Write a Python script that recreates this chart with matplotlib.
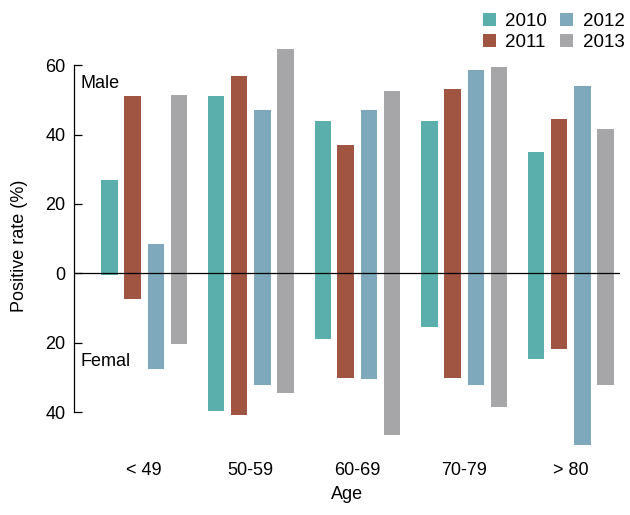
import numpy as np
import matplotlib.pyplot as plt

plt.rcParams['font.family'] = ['Liberation Sans', 'DejaVu Sans']

# age groups and years
ages = ['<49', '50-59', '60-69', '70-79', '>80']
years = ['2010', '2011', '2012', '2013']
colors = ['#5aaeac', '#a05442', '#7ea8bb', '#a6a6a8']

# positive rate (%) for males (upwards) and females (downwards)
male_2010 = [27, 51, 44, 44, 35]
male_2011 = [51, 57, 37, 53, 44.5]
male_2012 = [8.5, 47, 47, 58.5, 54]
male_2013 = [51.5, 64.5, 52.5, 59.5, 41.5]

female_2010 = [0.4, 39.7, 19, 15.5, 24.7]
female_2011 = [7.4, 40.8, 30, 30, 21.8]
female_2012 = [27.6, 32.2, 30.5, 32.2, 49.5]
female_2013 = [20.4, 34.5, 46.6, 38.5, 32.2]

male = [male_2010, male_2011, male_2012, male_2013]
female = [female_2010, female_2011, female_2012, female_2013]

fig = plt.figure(figsize=(6.3, 5.15), dpi=100)
ax = fig.add_axes([0.117, 0.132, 0.867, 0.782])

x = np.arange(len(ages))
offsets = [-0.325, -0.11, 0.11, 0.325]
width = 0.155
for i, yr in enumerate(years):
    top = np.array(male[i])
    bottom = -np.array(female[i])
    ax.bar(x + offsets[i], top - bottom, width, bottom=bottom,
           color=colors[i], label=yr, zorder=2)

ax.axhline(0, color='black', lw=0.9, zorder=3)

ax.set_xlim(-0.66, 4.46)
ax.set_ylim(-50, 66)
ax.set_yticks([60, 40, 20, 0, -20, -40])
ax.set_yticklabels(['60', '40', '20', '0', '20', '40'])
ax.set_xticks(x)
ax.set_xticklabels(['< 49', '50-59', '60-69', '70-79', '> 80'])

for s in ['top', 'right', 'bottom']:
    ax.spines[s].set_visible(False)
ax.spines['left'].set_bounds(-40, 60)
ax.spines['left'].set_linewidth(0.9)
ax.tick_params(axis='y', direction='in', length=6, width=0.9, labelsize=13, pad=6)
ax.tick_params(axis='x', length=0, labelsize=13, pad=11)

ax.set_ylabel('Positive rate (%)', fontsize=13, labelpad=12)
ax.set_xlabel('Age', fontsize=13, labelpad=5)

ax.text(-0.6, 54.8, 'Male', fontsize=13, va='center', ha='left')
ax.text(-0.6, -25.5, 'Femal', fontsize=13, va='center', ha='left')

fig.legend(ncol=2, loc='upper right', bbox_to_anchor=(1.012, 1.0), frameon=False,
           fontsize=13.5, handlelength=0.7, handleheight=0.7, handletextpad=0.5,
           columnspacing=0.7, labelspacing=0.2, borderpad=0.2)

fig.savefig('out.png', dpi=100)
